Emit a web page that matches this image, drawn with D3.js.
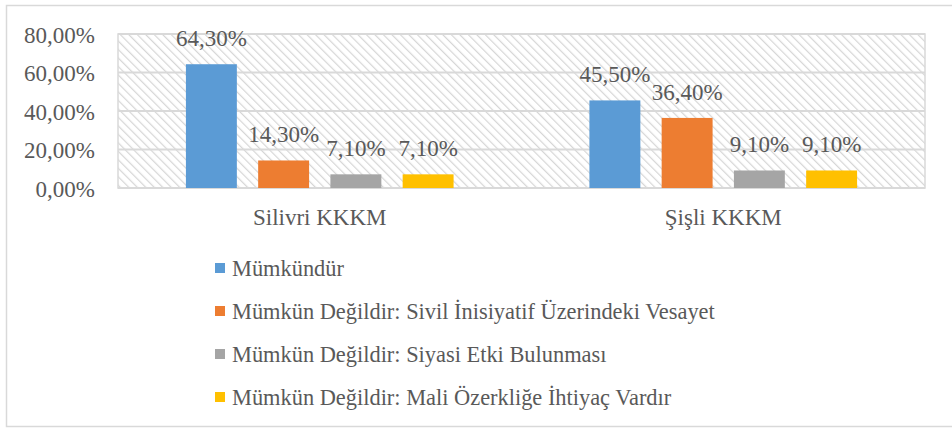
<!DOCTYPE html>
<html>
<head>
<meta charset="utf-8">
<script src="https://cdn.jsdelivr.net/npm/d3@7"></script>
<style>
  body { margin: 0; background: #fff; }
</style>
</head>
<body>
<div id="chart"></div>
<script>
const categories = ["Silivri KKKM", "Şişli KKKM"];
const seriesNames = [
  "Mümkündür",
  "Mümkün Değildir: Sivil İnisiyatif Üzerindeki Vesayet",
  "Mümkün Değildir: Siyasi Etki Bulunması",
  "Mümkün Değildir: Mali Özerkliğe İhtiyaç Vardır"
];
const silivriValues = [64.3, 14.3, 7.1, 7.1];
const sisliValues = [45.5, 36.4, 9.1, 9.1];
const yTicks = [0, 20, 40, 60, 80];
const colors = ["#5b9bd5", "#ed7d31", "#a5a5a5", "#ffc000"];

const values = [silivriValues, sisliValues];
const fmt = v => v.toFixed(2).replace(".", ",") + "%";
const fmtLabel = v => v.toFixed(1).replace(".", ",") + "0%";

const FONT = "'Liberation Serif', 'Times New Roman', serif";
const FS = 23;
const width = 952, height = 428;
const plot = { left: 118, top: 34, right: 925, bottom: 188 };

const svg = d3.select("#chart").append("svg")
  .attr("width", width).attr("height", height);

// hatch pattern for plot background
const pat = svg.append("defs").append("pattern")
  .attr("id", "hatch").attr("patternUnits", "userSpaceOnUse")
  .attr("width", 6).attr("height", 6)
  .attr("patternTransform", "rotate(-45)");
pat.append("rect").attr("width", 6).attr("height", 6).attr("fill", "#fff");
pat.append("line").attr("x1", 0).attr("y1", 0).attr("x2", 0).attr("y2", 6)
  .attr("stroke", "#d6d6d6").attr("stroke-width", 2.4);

// outer border (right edge falls outside the picture)
svg.append("rect").attr("x", 6.5).attr("y", 5.5)
  .attr("width", width).attr("height", 421)
  .attr("fill", "none").attr("stroke", "#d9d9d9").attr("stroke-width", 1.5);

const y = d3.scaleLinear().domain([0, 80]).range([plot.bottom, plot.top]);
const x0 = d3.scaleBand().domain(categories).range([plot.left, plot.right]);
const x1 = d3.scaleBand().domain(d3.range(seriesNames.length))
  .range([0, x0.bandwidth()]).paddingInner(0.295).paddingOuter(0.94);

svg.append("rect")
  .attr("x", plot.left).attr("y", plot.top)
  .attr("width", plot.right - plot.left).attr("height", plot.bottom - plot.top)
  .attr("fill", "url(#hatch)").attr("stroke", "#d9d9d9").attr("stroke-width", 1.5);

// gridlines
svg.append("g").selectAll("line").data(yTicks).join("line")
  .attr("x1", plot.left).attr("x2", plot.right)
  .attr("y1", d => y(d)).attr("y2", d => y(d))
  .attr("stroke", "#d9d9d9").attr("stroke-width", 2);

// y axis labels
const yAxis = d3.axisLeft(y).tickValues(yTicks).tickFormat(fmt).tickSize(0).tickPadding(23);
const ya = svg.append("g").attr("transform", `translate(${plot.left},0)`).call(yAxis);
ya.select(".domain").remove();
ya.selectAll("text").attr("font-size", null).attr("fill", null)
  .style("font-family", FONT).style("font-size", FS + "px").style("fill", "#595959")
  .attr("dy", "0.35em");

// bars
const groups = svg.append("g").selectAll("g").data(categories).join("g")
  .attr("transform", d => `translate(${x0(d)},0)`);

groups.selectAll("rect").data((d, i) => values[i].map((v, j) => ({ v, j })))
  .join("rect")
  .attr("x", d => x1(d.j)).attr("width", x1.bandwidth())
  .attr("y", d => y(d.v)).attr("height", d => y(0) - y(d.v))
  .attr("fill", d => colors[d.j]);

groups.selectAll("text").data((d, i) => values[i].map((v, j) => ({ v, j })))
  .join("text")
  .attr("x", d => x1(d.j) + x1.bandwidth() / 2)
  .attr("y", d => y(d.v) - 18)
  .attr("text-anchor", "middle")
  .style("font-family", FONT).style("font-size", FS + "px").style("fill", "#595959")
  .text(d => fmtLabel(d.v));

// category labels
svg.append("g").selectAll("text").data(categories).join("text")
  .attr("x", d => x0(d) + x0.bandwidth() / 2).attr("y", 225)
  .attr("text-anchor", "middle")
  .style("font-family", FONT).style("font-size", FS + "px").style("fill", "#595959")
  .text(d => d);

// legend
const leg = svg.append("g").selectAll("g").data(seriesNames).join("g")
  .attr("transform", (d, i) => `translate(215,${268 + i * 43})`);
leg.append("rect").attr("x", 0).attr("y", -5).attr("width", 10).attr("height", 10)
  .attr("fill", (d, i) => colors[i]);
leg.append("text").attr("x", 17).attr("dy", "0.35em")
  .style("font-family", FONT).style("font-size", "22.4px").style("fill", "#595959")
  .text(d => d);
</script>
</body>
</html>
